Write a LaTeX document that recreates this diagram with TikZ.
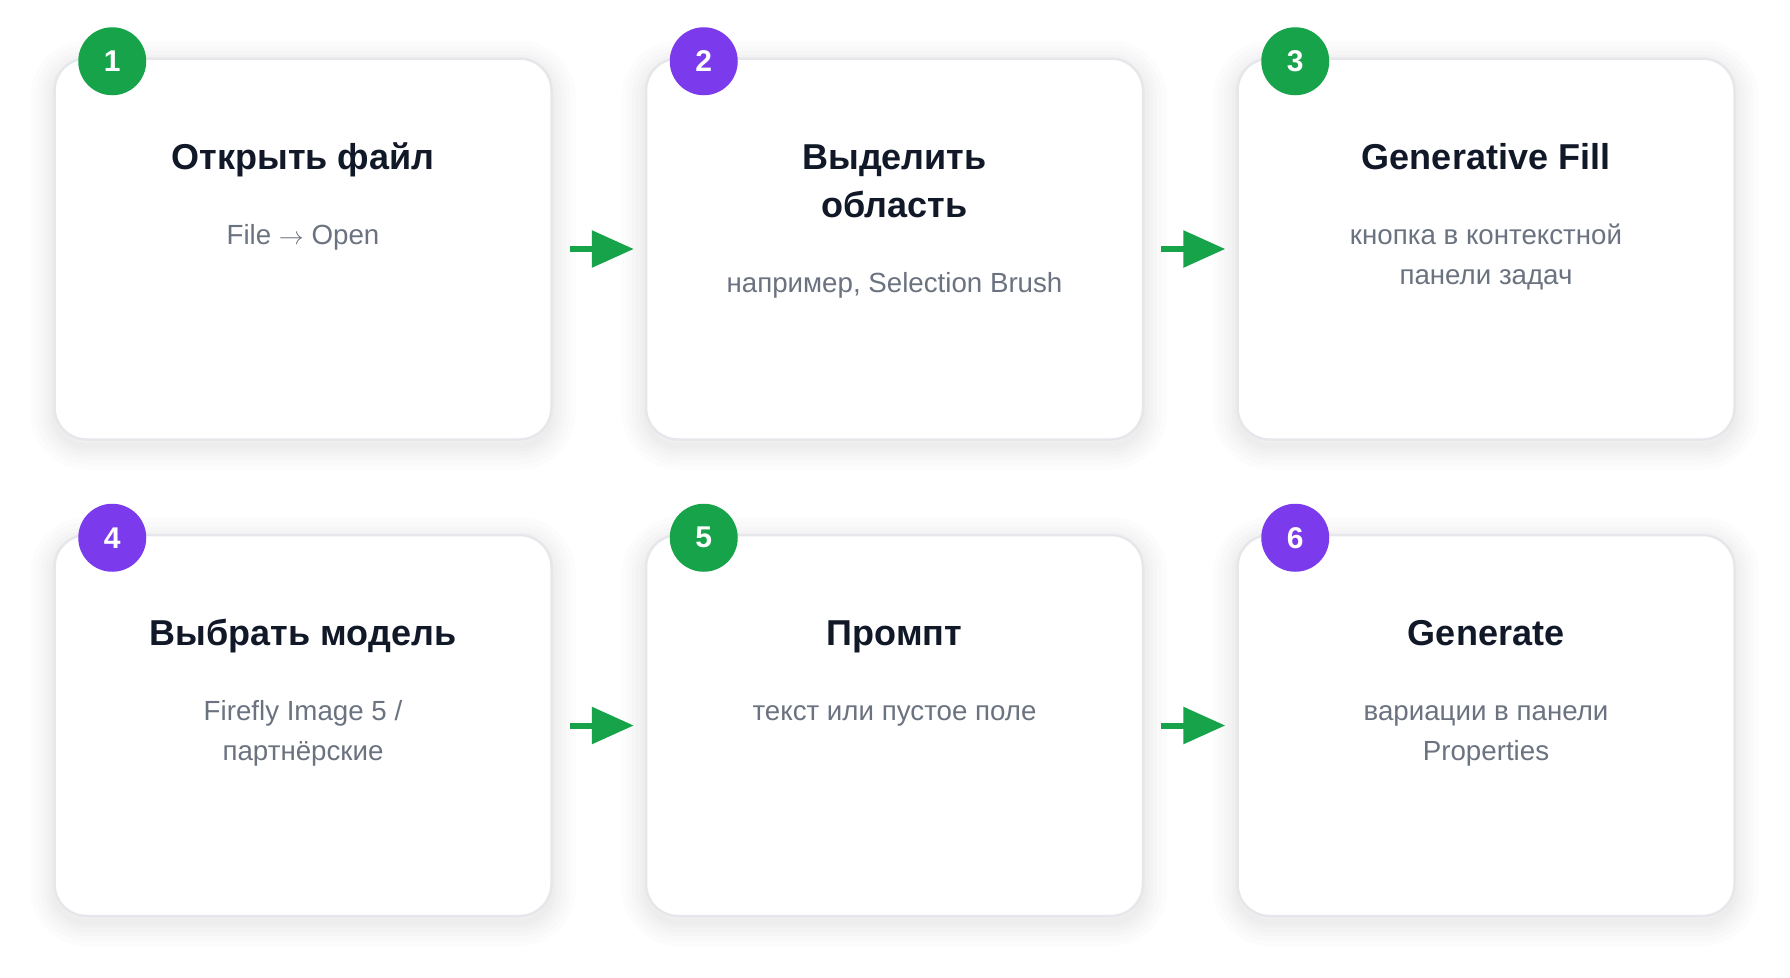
\documentclass[tikz,border=0pt]{standalone}
\usepackage{fontspec}
\setmainfont{Liberation Sans}
\usetikzlibrary{positioning,arrows.meta}
\definecolor{stepgreen}{HTML}{16A34A}
\definecolor{steppurple}{HTML}{7C3AED}
\definecolor{cardline}{HTML}{E5E7EB}
\definecolor{titleink}{HTML}{111827}
\definecolor{noteink}{HTML}{6B7280}

\begin{document}
\begin{tikzpicture}[x=1pt,y=1pt]
\tikzset{ShadowRing/.style = {preaction={draw=black,draw opacity=0.012,
                                         line width=#1,
                                         transform canvas={yshift=-6pt}}},
         CardStyle/.style = {draw=cardline,line width=2.5pt,fill=white,
                             rounded corners=32pt,inner sep=0pt,
                             minimum width=497pt,minimum height=381pt,
                             ShadowRing=48pt,ShadowRing=38pt,ShadowRing=28pt,
                             ShadowRing=20pt,ShadowRing=12pt,ShadowRing=6pt},
         BadgeStyle/.style = {circle,minimum size=68pt,inner sep=0pt,
                              text=white,
                              font=\fontsize{30}{30}\selectfont\bfseries},
         TitleStyle/.style = {anchor=base,align=center,text=titleink,
                              inner sep=0pt,
                              font=\fontsize{36}{48}\selectfont\bfseries},
         NoteStyle/.style  = {anchor=base,align=center,text=noteink,
                              inner sep=0pt,
                              font=\fontsize{27.7}{40}\selectfont},
         FlowStyle/.style  = {-{Triangle[length=42pt,width=36pt]},
                              line width=6pt,draw=stepgreen,
                              shorten <=17pt,shorten >=11pt}}
\fill[white] (0,0) rectangle (1790,-977);
\useasboundingbox (0,0) rectangle (1790,-977);
% cards
\node[CardStyle] (c1) at (303,-249) {};
\node[CardStyle, right=92pt of c1] (c2) {};
\node[CardStyle, right=92pt of c2] (c3) {};
\node[CardStyle, below=93pt of c1] (c4) {};
\node[CardStyle, right=92pt of c4] (c5) {};
\node[CardStyle, right=92pt of c5] (c6) {};
% numbers
\node[BadgeStyle, fill=stepgreen]  (b1) at ([xshift=59pt,yshift=-4pt]c1.north west) {1};
\node[BadgeStyle, fill=steppurple] (b2) at ([xshift=59pt,yshift=-4pt]c2.north west) {2};
\node[BadgeStyle, fill=stepgreen]  (b3) at ([xshift=59pt,yshift=-4pt]c3.north west) {3};
\node[BadgeStyle, fill=steppurple] (b4) at ([xshift=59pt,yshift=-4pt]c4.north west) {4};
\node[BadgeStyle, fill=stepgreen]  (b5) at ([xshift=59pt,yshift=-4pt]c5.north west) {5};
\node[BadgeStyle, fill=steppurple] (b6) at ([xshift=59pt,yshift=-4pt]c6.north west) {6};
% titles and notes (base = last line)
\node[TitleStyle] (t1) at ([yshift=-112pt]c1.north) {Открыть файл};
\node[NoteStyle]  (n1) at ([yshift=-187pt]c1.north) {File $\rightarrow$ Open};
\node[TitleStyle] (t2) at ([yshift=-160pt]c2.north) {Выделить\\область};
\node[NoteStyle]  (n2) at ([yshift=-235pt]c2.north) {например, Selection Brush};
\node[TitleStyle] (t3) at ([yshift=-112pt]c3.north) {Generative Fill};
\node[NoteStyle]  (n3) at ([yshift=-227pt]c3.north) {кнопка в контекстной\\панели задач};
\node[TitleStyle] (t4) at ([yshift=-112pt]c4.north) {Выбрать модель};
\node[NoteStyle]  (n4) at ([yshift=-227pt]c4.north) {Firefly Image 5 /\\партнёрские};
\node[TitleStyle] (t5) at ([yshift=-112pt]c5.north) {Промпт};
\node[NoteStyle]  (n5) at ([yshift=-187pt]c5.north) {текст или пустое поле};
\node[TitleStyle] (t6) at ([yshift=-112pt]c6.north) {Generate};
\node[NoteStyle]  (n6) at ([yshift=-227pt]c6.north) {вариации в панели\\Properties};
% arrows
\draw[FlowStyle] (c1) -- (c2);
\draw[FlowStyle] (c2) -- (c3);
\draw[FlowStyle] (c4) -- (c5);
\draw[FlowStyle] (c5) -- (c6);
\end{tikzpicture}
\end{document}
